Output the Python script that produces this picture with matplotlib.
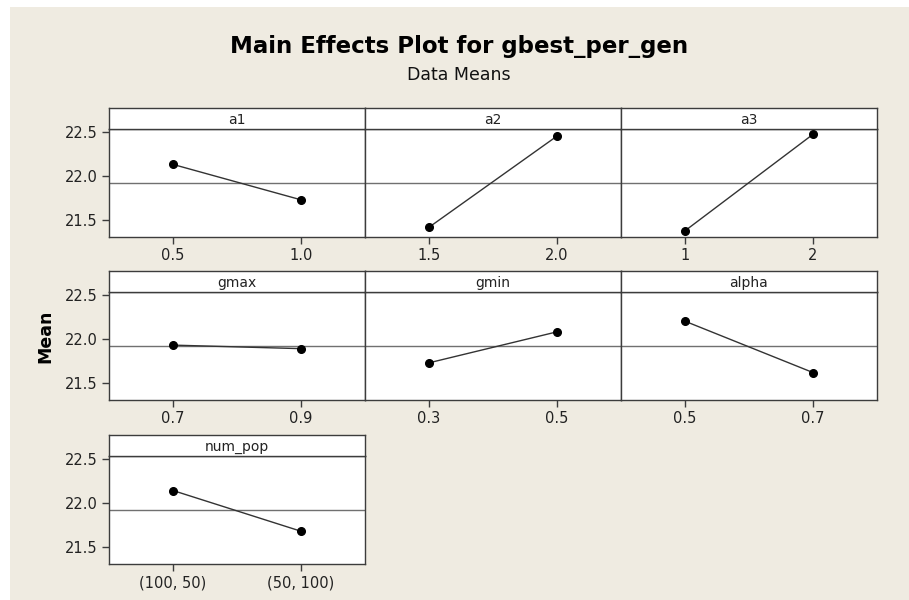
import matplotlib
matplotlib.use("Agg")
import matplotlib.pyplot as plt
from matplotlib.patches import Rectangle

# factor names, level labels and level means
factors = ["a1", "a2", "a3", "gmax", "gmin", "alpha", "num_pop"]
levels = [["0.5", "1.0"], ["1.5", "2.0"], ["1", "2"], ["0.7", "0.9"],
          ["0.3", "0.5"], ["0.5", "0.7"], ["(100, 50)", "(50, 100)"]]
means = [[22.13, 21.73], [21.42, 22.45], [21.38, 22.47], [21.93, 21.89],
         [21.73, 22.08], [22.20, 21.62], [22.14, 21.68]]
grand_mean = 21.92
yticks = [21.5, 22.0, 22.5]

W, H = 909, 600
bg = "#efebe1"
edge = "#3c3c3c"

fig = plt.figure(figsize=(W / 100, H / 100), dpi=100, facecolor="white")
fig.patches.append(Rectangle((10 / W, 0), 1, 1 - 7 / H, transform=fig.transFigure,
                             facecolor=bg, edgecolor="none", zorder=-10))

def px_rect(x, y, w, h):
    # pixel box (top-left origin) -> figure fraction
    return [x / W, 1 - (y + h) / H, w / W, h / H]

col_x = [109, 365, 621]
row_y = [108, 271, 435]
pw, ph, sh = 256, 129, 21

for i, name in enumerate(factors):
    r, c = divmod(i, 3)
    x0, y0 = col_x[c], row_y[r]

    ax = fig.add_axes(px_rect(x0, y0 + sh, pw, ph - sh))
    ax.set_facecolor("white")
    ax.axhline(grand_mean, color="#707070", lw=1, zorder=1)
    ax.plot([1, 2], means[i], color="#333333", lw=1, zorder=2)
    ax.plot([1, 2], means[i], "o", color="black", ms=5.5, zorder=3)
    ax.set_xlim(0.5, 2.5)
    ax.set_ylim(21.31, 22.53)
    ax.set_xticks([1, 2])
    ax.set_xticklabels(levels[i])
    ax.set_yticks(yticks)
    if c == 0:
        ax.set_yticklabels([f"{v:.1f}" for v in yticks])
        ax.tick_params(axis="y", length=5, width=1, color=edge, labelsize=10.5,
                       labelcolor="#222222", pad=3)
    else:
        ax.tick_params(axis="y", left=False, labelleft=False)
    ax.tick_params(axis="x", length=5, width=1, color=edge, labelsize=10.5,
                   labelcolor="#222222", pad=3)
    for s in ax.spines.values():
        s.set_color(edge)
        s.set_linewidth(1)

    # strip header on top of the panel
    sax = fig.add_axes(px_rect(x0, y0, pw, sh))
    sax.set_facecolor("white")
    sax.set_xticks([])
    sax.set_yticks([])
    for s in sax.spines.values():
        s.set_color(edge)
        s.set_linewidth(1)
    sax.text(0.5, 0.45, name, ha="center", va="center", fontsize=10, color="#222222",
             transform=sax.transAxes)

fig.text(0.505, 1 - 47 / H, "Main Effects Plot for gbest_per_gen", ha="center",
         va="center", fontsize=16.5, fontweight="bold", color="black")
fig.text(0.505, 1 - 75 / H, "Data Means", ha="center", va="center",
         fontsize=12.5, color="#111111")
fig.text(45 / W, 1 - 336 / H, "Mean", ha="center", va="center", rotation=90,
         fontsize=12.5, fontweight="bold", color="black")

fig.savefig("out.png", dpi=100, facecolor=fig.get_facecolor())
